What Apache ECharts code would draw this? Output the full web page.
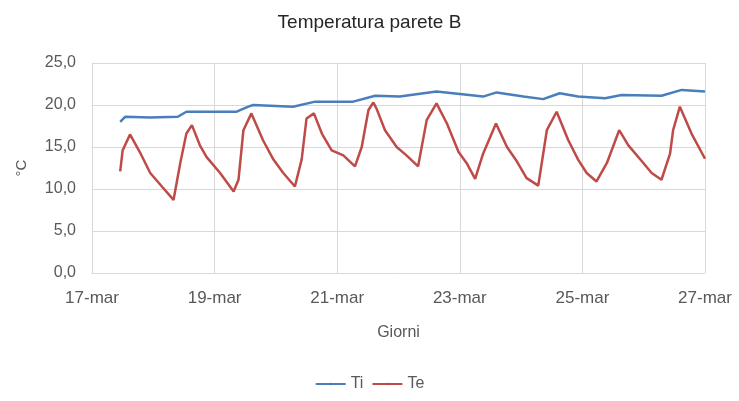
<!DOCTYPE html>
<html>
<head>
<meta charset="utf-8">
<script src="https://cdn.jsdelivr.net/npm/echarts@6/dist/echarts.min.js"></script>
<style>html,body{margin:0;padding:0;background:#fff}#c{width:739px;height:401px}</style>
</head>
<body>
<div id="c"></div>
<script>
// Days since 17-mar 00:00
const xTickLabels = ['17-mar', '19-mar', '21-mar', '23-mar', '25-mar', '27-mar'];
const tiDays = [0.46, 0.54, 0.95, 1.40, 1.54, 1.87, 2.36, 2.55, 2.63, 3.28, 3.64, 4.26, 4.62, 5.02, 5.62, 6.00, 6.38, 6.60, 7.04, 7.36, 7.63, 7.93, 8.37, 8.64, 9.29, 9.62, 10.0];
const tiVals = [18.0, 18.6, 18.5, 18.6, 19.2, 19.2, 19.2, 19.8, 20.0, 19.8, 20.4, 20.4, 21.1, 21.0, 21.6, 21.3, 21.0, 21.5, 21.0, 20.7, 21.4, 21.0, 20.8, 21.2, 21.1, 21.8, 21.6];
const teDays = [0.46, 0.50, 0.62, 0.78, 0.95, 1.14, 1.33, 1.44, 1.54, 1.63, 1.76, 1.87, 2.09, 2.31, 2.39, 2.47, 2.60, 2.79, 2.96, 3.12, 3.31, 3.42, 3.50, 3.62, 3.75, 3.91, 4.10, 4.29, 4.40, 4.51, 4.59, 4.64, 4.78, 4.97, 5.13, 5.32, 5.46, 5.62, 5.79, 5.98, 6.11, 6.25, 6.38, 6.59, 6.77, 6.93, 7.09, 7.28, 7.42, 7.58, 7.77, 7.93, 8.07, 8.23, 8.40, 8.60, 8.75, 8.97, 9.13, 9.29, 9.43, 9.48, 9.59, 9.78, 10.0];
const teVals = [12.1, 14.6, 16.5, 14.4, 11.9, 10.3, 8.7, 13.1, 16.6, 17.6, 15.2, 13.8, 11.9, 9.7, 11.1, 17.0, 19.0, 15.8, 13.5, 11.9, 10.3, 13.5, 18.4, 19.0, 16.6, 14.6, 14.0, 12.7, 15.0, 19.4, 20.3, 19.6, 17.0, 15.0, 14.0, 12.7, 18.2, 20.2, 17.8, 14.4, 13.1, 11.2, 14.2, 17.8, 15.0, 13.3, 11.3, 10.4, 17.0, 19.2, 15.8, 13.5, 11.9, 10.9, 13.1, 17.0, 15.2, 13.3, 11.9, 11.1, 14.2, 17.0, 19.8, 16.6, 13.6];

const FONT = '"Liberation Sans", Arial, sans-serif';
const chart = echarts.init(document.getElementById('c'));
chart.setOption({
  animation: false,
  title: {
    text: 'Temperatura parete B',
    left: 'center', top: 8,
    textStyle: { fontFamily: FONT, fontSize: 19, fontWeight: 'normal', color: '#262626' }
  },
  legend: {
    bottom: 4, left: 'center',
    itemWidth: 30, itemHeight: 3, itemGap: 8,
    textStyle: { fontFamily: FONT, fontSize: 16, color: '#595959' },
    data: ['Ti', 'Te']
  },
  grid: { left: 92, right: 34, top: 63, bottom: 128 },
  xAxis: {
    type: 'value', min: 0, max: 10, interval: 2,
    name: 'Giorni', nameLocation: 'middle', nameGap: 52,
    nameTextStyle: { fontFamily: FONT, fontSize: 16, color: '#595959' },
    axisLine: { show: true, lineStyle: { color: '#d9d9d9' } },
    axisTick: { show: false },
    axisLabel: {
      fontFamily: FONT, fontSize: 17, color: '#595959', margin: 17,
      formatter: v => xTickLabels[Math.round(v / 2)] || ''
    },
    splitLine: { show: true, lineStyle: { color: '#d9d9d9' } }
  },
  yAxis: {
    type: 'value', min: 0, max: 25, interval: 5,
    name: '°C', nameLocation: 'middle', nameGap: 63, nameRotate: 90,
    nameTextStyle: { fontFamily: FONT, fontSize: 15, color: '#595959' },
    axisLine: { show: true, lineStyle: { color: '#d9d9d9' } },
    axisTick: { show: false },
    axisLabel: {
      fontFamily: FONT, fontSize: 16, color: '#595959', margin: 16,
      formatter: v => v.toFixed(1).replace('.', ',')
    },
    splitLine: { show: true, lineStyle: { color: '#d9d9d9' } }
  },
  series: [
    {
      name: 'Ti', type: 'line', symbol: 'none',
      lineStyle: { color: '#4a7ebb', width: 2.5 }, itemStyle: { color: '#4a7ebb' },
      data: tiDays.map((d, i) => [d, tiVals[i]])
    },
    {
      name: 'Te', type: 'line', symbol: 'none',
      lineStyle: { color: '#be4b48', width: 2.5 }, itemStyle: { color: '#be4b48' },
      data: teDays.map((d, i) => [d, teVals[i]])
    }
  ]
});
</script>
</body>
</html>
